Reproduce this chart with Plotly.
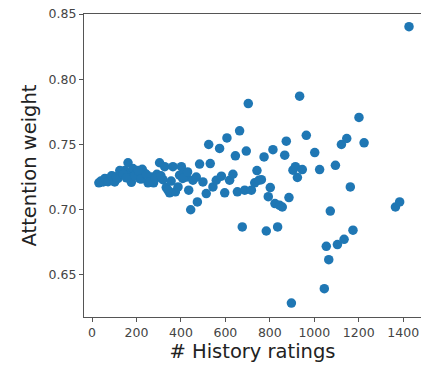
import plotly.graph_objects as go

history_ratings = [31, 50, 64, 80, 94, 102, 117, 132, 147, 162, 170, 177, 184, 200, 214, 226, 237, 252, 267, 277,
                   292, 304, 319, 327, 334, 349, 364, 375, 387, 402, 394, 414, 424, 435, 444, 454, 469, 474, 484, 499,
                   514, 525, 532, 544, 559, 574, 582, 597, 607, 619, 634, 645, 654, 664, 676, 687, 694, 703, 717, 732,
                   742, 751, 762, 774, 784, 793, 802, 814, 823, 835, 844, 856, 867, 874, 886, 897, 904, 915, 924, 934,
                   946, 964, 1002, 1024, 1045, 1054, 1065, 1072, 1095, 1104, 1122, 1134, 1146, 1162, 1174, 1201, 1224,
                   1365, 1384, 1426,
                   40, 58, 72, 88, 110, 125, 140, 155, 192, 208, 220, 245, 260, 285, 310, 342, 356, 408, 430]
attention_weight = [0.7206, 0.7213, 0.7226, 0.7234, 0.7257, 0.7213, 0.724, 0.728, 0.730, 0.736, 0.728, 0.721, 0.7316,
                    0.728, 0.724, 0.731, 0.728, 0.7206, 0.725, 0.7206, 0.7272, 0.736, 0.723, 0.733, 0.717, 0.713, 0.733,
                    0.7137, 0.7175, 0.733, 0.7265, 0.728, 0.725, 0.715, 0.700, 0.7226, 0.725, 0.706, 0.735, 0.7213,
                    0.7124, 0.750, 0.7354, 0.7175, 0.7226, 0.747, 0.7257, 0.713, 0.755, 0.7226, 0.7272, 0.7413, 0.7137,
                    0.7605, 0.6868, 0.715, 0.745, 0.7814, 0.715, 0.7206, 0.730, 0.7226, 0.723, 0.7405, 0.6837, 0.710,
                    0.717, 0.746, 0.7047, 0.6868, 0.7034, 0.7021, 0.7418, 0.7525, 0.7093, 0.6285, 0.7303, 0.733, 0.7247,
                    0.787, 0.7308, 0.757, 0.7438, 0.7308, 0.6395, 0.672, 0.6617, 0.699, 0.734, 0.6733, 0.750, 0.6773,
                    0.7546, 0.7175, 0.6843, 0.7707, 0.7513, 0.7021, 0.706, 0.8403,
                    0.7220, 0.7240, 0.7215, 0.7260, 0.7250, 0.7300, 0.7270, 0.7245, 0.7260, 0.7300, 0.7235, 0.7270,
                    0.7215, 0.7240, 0.7260, 0.7150, 0.7220, 0.7240, 0.7290]

x_ticks = [0, 200, 400, 600, 800, 1000, 1200, 1400]
y_ticks = [0.65, 0.70, 0.75, 0.80, 0.85]
y_tick_labels = ["0.65", "0.70", "0.75", "0.80", "0.85"]

fig = go.Figure(go.Scatter(
    x=history_ratings, y=attention_weight, mode="markers",
    marker=dict(color="#1f77b4", size=9.5, line=dict(width=0)),
    cliponaxis=False,
))

axis_common = dict(
    showgrid=False, zeroline=False, showline=True, linecolor="#555555", linewidth=1.2,
    ticks="outside", ticklen=4, tickcolor="#555555",
    tickfont=dict(family="DejaVu Sans", size=12.5, color="#444444"),
    automargin=False,
)

fig.update_layout(
    width=421, height=365,
    margin=dict(l=84, r=0, t=14, b=48),
    paper_bgcolor="white", plot_bgcolor="white",
    showlegend=False,
    xaxis=dict(range=[-36, 1480], tickvals=x_ticks, mirror=True,
               title=dict(text="# History ratings", standoff=0,
                          font=dict(family="DejaVu Sans", size=19.5, color="#222222")),
               **axis_common),
    yaxis=dict(range=[0.6178, 0.85], tickvals=y_ticks, ticktext=y_tick_labels,
               title=dict(text="Attention weight", standoff=6,
                          font=dict(family="DejaVu Sans", size=19.5, color="#222222")),
               **axis_common),
)

fig.write_html("out.html", config={"displayModeBar": False},
               post_script="document.body.style.margin='0';document.body.style.overflow='hidden';")
